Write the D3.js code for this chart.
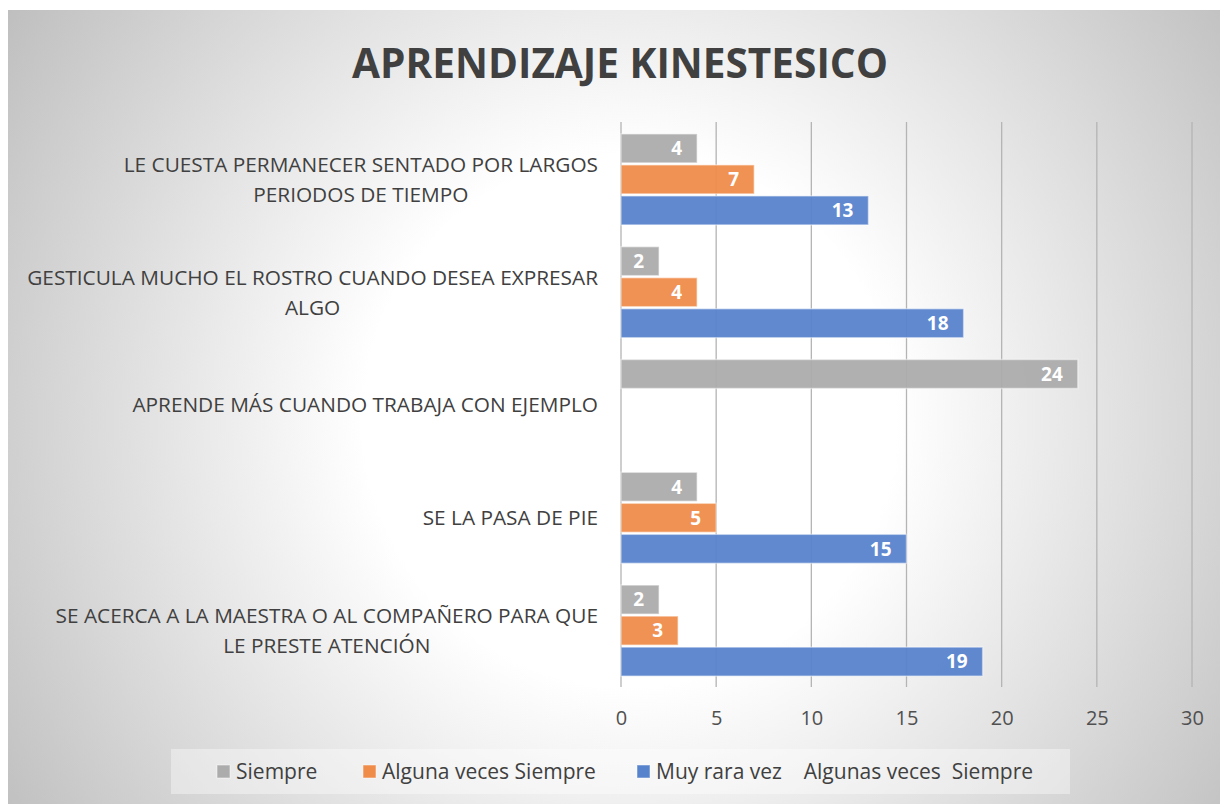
<!DOCTYPE html>
<html>
<head>
<meta charset="utf-8">
<script src="https://cdn.jsdelivr.net/npm/d3@7/dist/d3.min.js"></script>
<style>
  html, body { margin: 0; padding: 0; background: #fff; }
  svg { display: block; }
  text { font-family: "Open Sans", "Noto Sans", sans-serif; }
</style>
</head>
<body>
<svg id="chart" width="1220" height="804"></svg>
<script>
const title = "APRENDIZAJE KINESTESICO";
const categories = [
  "LE CUESTA PERMANECER SENTADO POR LARGOS\nPERIODOS DE TIEMPO",
  "GESTICULA MUCHO EL ROSTRO CUANDO DESEA EXPRESAR\nALGO",
  "APRENDE MÁS CUANDO TRABAJA CON EJEMPLO",
  "SE LA PASA DE PIE",
  "SE ACERCA A LA MAESTRA O AL COMPAÑERO PARA QUE\nLE PRESTE ATENCIÓN"
];
const seriesNames = ["Siempre", "Alguna veces Siempre", "Muy rara vez    Algunas veces  Siempre"];
const siempre = [4, 2, 24, 4, 2];
const algunaVeces = [7, 4, null, 5, 3];
const muyRaraVez = [13, 18, null, 15, 19];
const seriesColors = ["#acacac", "#ef8c4a", "#5783cc"];
const xTicks = [0, 5, 10, 15, 20, 25, 30];

const series = [siempre, algunaVeces, muyRaraVez];

const svg = d3.select("#chart");
const W = 1220, H = 804;

// background
const defs = svg.append("defs");
const grad = defs.append("radialGradient").attr("id", "bg")
  .attr("gradientUnits", "userSpaceOnUse")
  .attr("cx", 630).attr("cy", 420).attr("r", 760);
grad.append("stop").attr("offset", "0").attr("stop-color", "#ffffff");
grad.append("stop").attr("offset", "0.35").attr("stop-color", "#ffffff");
grad.append("stop").attr("offset", "1").attr("stop-color", "#bdbdbd");

svg.append("rect").attr("width", W).attr("height", H).attr("fill", "#fff");
svg.append("rect").attr("x", 8).attr("y", 10).attr("width", W - 8).attr("height", H - 10).attr("fill", "url(#bg)");

// helper to fit font size to a target width
function fitSize(str, weight, target) {
  const t = svg.append("text").attr("font-size", 100).attr("font-weight", weight)
    .style("white-space", "pre").text(str);
  const w = t.node().getComputedTextLength();
  t.remove();
  return 100 * target / w;
}

// title
const titleSize = fitSize(title, 700, 536);
svg.append("text").attr("x", 620).attr("y", 78)
  .attr("text-anchor", "middle").attr("font-size", titleSize).attr("font-weight", 700)
  .attr("fill", "#404040").text(title);

// scales
const x = d3.scaleLinear().domain([0, 30]).range([621, 1192]);
const y = d3.scaleBand().domain(categories).range([123, 687]).paddingInner(0.193).paddingOuter(0.0965);
const ySub = d3.scaleBand().domain([0, 1, 2]).range([0, y.bandwidth()]).paddingInner(0.065);

// gridlines
svg.append("g").selectAll("line").data(xTicks).join("line")
  .attr("x1", d => x(d)).attr("x2", d => x(d))
  .attr("y1", 122).attr("y2", 687)
  .attr("stroke", "#b4b4b4").attr("stroke-width", 1.3);

// axis labels
const axisG = svg.append("g").attr("transform", "translate(0,687)");
const xAxis = d3.axisBottom(x).tickValues(xTicks).tickSize(0).tickPadding(0);
axisG.call(xAxis);
axisG.select(".domain").remove();
axisG.selectAll("text").attr("font-size", 20).attr("fill", "#505050")
  .attr("font-family", "\"Open Sans\", sans-serif")
  .attr("dy", null).attr("y", 38);

// bars
const barG = svg.append("g");
series.forEach((vals, si) => {
  const g = barG.append("g");
  const data = categories.map((c, i) => ({ c, v: vals[i] })).filter(d => d.v != null);
  g.selectAll("rect").data(data).join("rect")
    .attr("x", x(0))
    .attr("y", d => y(d.c) + ySub(si))
    .attr("width", d => x(d.v) - x(0))
    .attr("height", ySub.bandwidth())
    .attr("fill", seriesColors[si]).attr("fill-opacity", 0.95)
    .attr("stroke", "rgba(255,255,255,0.45)").attr("stroke-width", 1.5);
  g.selectAll("text").data(data).join("text")
    .attr("x", d => x(d.v) - 15)
    .attr("y", d => y(d.c) + ySub(si) + ySub.bandwidth() / 2)
    .attr("dy", "0.36em")
    .attr("text-anchor", "end").attr("font-size", 19).attr("font-weight", 700)
    .attr("fill", "#ffffff").text(d => d.v);
});

// category labels (line breaks from data)
const catSize = fitSize("GESTICULA MUCHO EL ROSTRO CUANDO DESEA EXPRESAR", 400, 571);
function measure(str) {
  const t = svg.append("text").attr("font-size", catSize).text(str);
  const w = t.node().getComputedTextLength();
  t.remove();
  return w;
}
categories.forEach(c => {
  const lines = c.split("\n");
  const maxW = d3.max(lines, measure);
  const cx = 598 - maxW / 2;
  const cy = y(c) + y.bandwidth() / 2;
  const lh = 30;
  const t = svg.append("text").attr("text-anchor", "middle")
    .attr("font-size", catSize).attr("fill", "#404040");
  lines.forEach((ln, i) => {
    t.append("tspan").attr("x", cx)
      .attr("y", cy + (i - (lines.length - 1) / 2) * lh)
      .attr("dy", "0.36em").text(ln);
  });
});

// legend
svg.append("rect").attr("x", 171).attr("y", 749).attr("width", 899).attr("height", 45)
  .attr("fill", "#ffffff").attr("fill-opacity", 0.38);
const legSize = fitSize(seriesNames[1], 400, 214);
const legX = [217, 363, 637];
seriesNames.forEach((n, i) => {
  svg.append("rect").attr("x", legX[i]).attr("y", 765).attr("width", 13).attr("height", 13)
    .attr("fill", seriesColors[i]).attr("stroke", "rgba(255,255,255,0.5)");
  svg.append("text").attr("x", legX[i] + 19).attr("y", 771.5).attr("dy", "0.36em")
    .attr("font-size", legSize).attr("fill", "#404040")
    .style("white-space", "pre").text(n);
});
</script>
</body>
</html>
